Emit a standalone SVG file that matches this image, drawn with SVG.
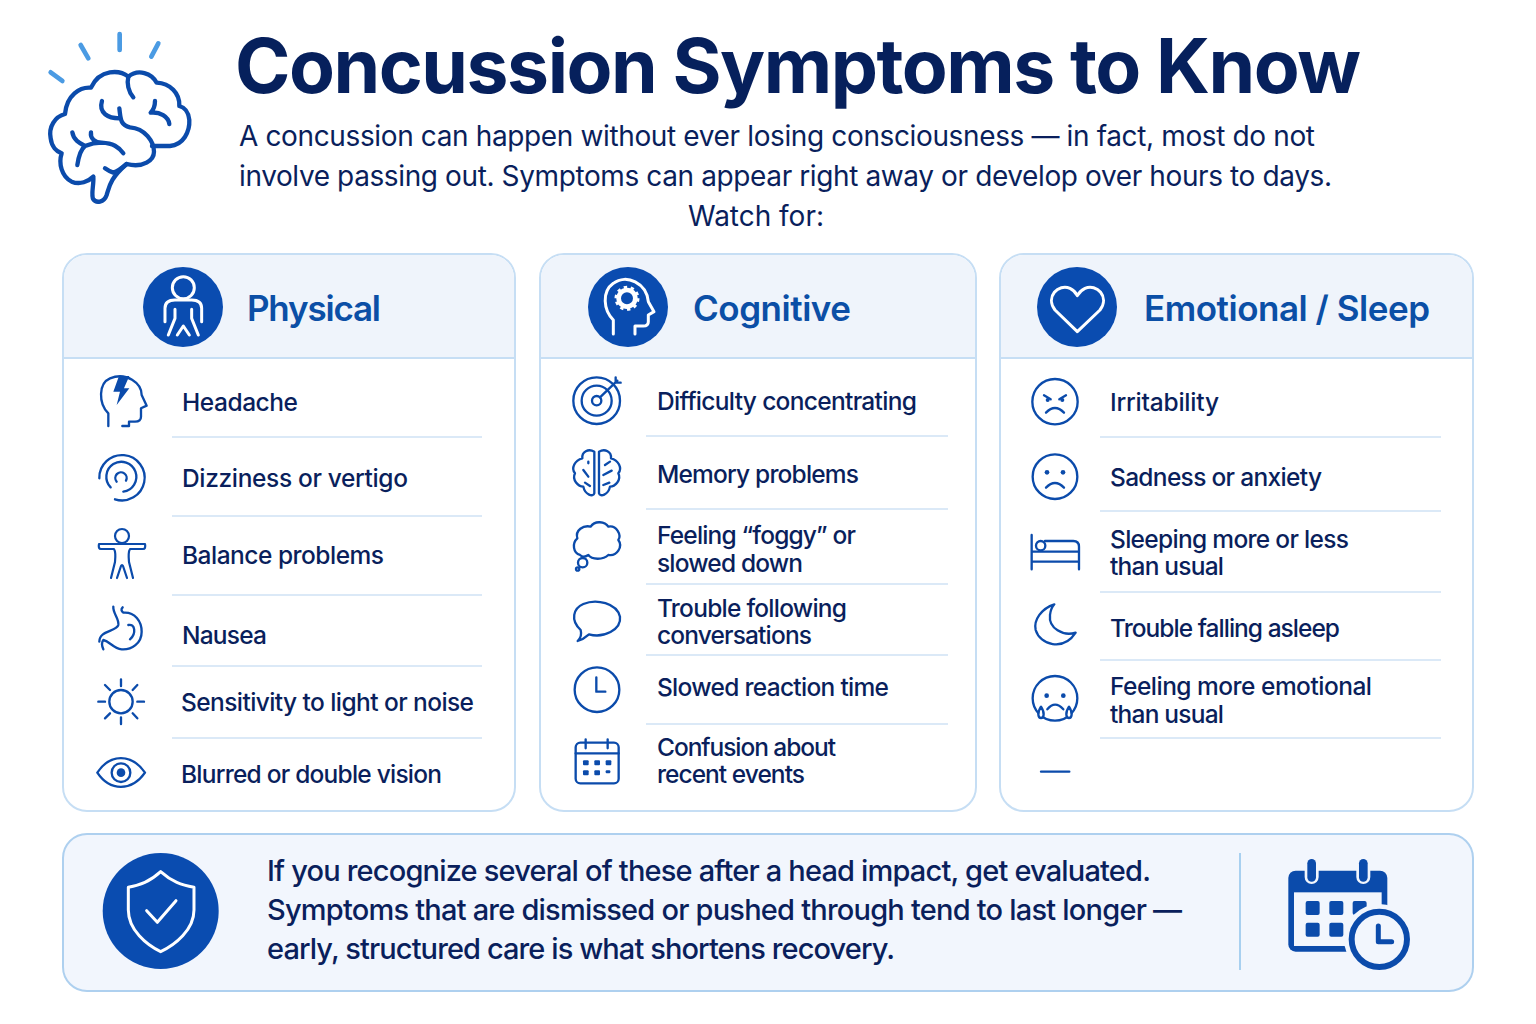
<svg xmlns="http://www.w3.org/2000/svg" width="1536" height="1024" viewBox="0 0 1536 1024">
<style>
text{font-family:"Inter","Liberation Sans",sans-serif;fill:#0a1f5c}
.title{font-size:75px;font-weight:700;fill:#06205c}
.sub{font-size:28px;font-weight:400}
.head{font-size:35px;font-weight:600;fill:#0b4fa6}
.item{font-size:24.500px;font-weight:500}
.note{font-size:29px;font-weight:500}
.panel{fill:#fff;stroke:#c6def4;stroke-width:2}
.hdr{fill:#eff4fb}
.rule{stroke:#c6def4;stroke-width:2;fill:none}
.sep{stroke:#dbe9f7;stroke-width:2;fill:none}
.ic{fill:none;stroke:#0b4bab;stroke-width:7;stroke-linecap:round;stroke-linejoin:round}
.wh{fill:none;stroke:#fff;stroke-width:9;stroke-linecap:round;stroke-linejoin:round}
.dot{fill:#0b4bab;stroke:none}
.disc{fill:#0a4cb0}
</style>
<rect width="1536" height="1024" fill="#fff"/>

<g id="brain-logo" transform="translate(30,20) scale(.3333)">
<g fill="none" stroke="#4b9be3" stroke-width="14" stroke-linecap="round">
<path d="M62,157L97,183M152,75L175,115M269,42V90M385,70L364,110"/>
</g>
<g fill="none" stroke="#0b4bab" stroke-width="13" stroke-linecap="round" stroke-linejoin="round">
<path d="M190,470C192,495 182,525 190,538C198,550 222,548 230,525C238,500 240,475 290,432C340,445 372,420 372,395C372,365 345,325 300,322C270,315 272,295 268,265M268,295C235,295 205,280 216,243M295,170C270,150 210,145 183,203C150,200 110,225 105,282C75,290 55,320 62,355C65,380 80,395 95,400C85,430 95,470 125,485C150,495 175,485 190,470"/>
<path d="M295,170C325,145 365,160 380,188C420,190 450,220 448,258C462,262 475,270 478,300C480,335 460,375 420,378H366"/>
<path d="M295,170C290,190 295,215 310,232M290,432C275,445 262,455 250,458C240,455 232,450 225,445"/>
<path d="M127,337C130,360 150,370 165,378C150,390 145,415 142,435M165,378C180,372 195,368 215,368C250,370 265,380 280,400M183,337C180,355 195,368 215,368"/>
<path d="M375,243C375,255 370,270 362,278C390,275 415,290 418,312"/>
</g>
</g>

<g id="header-text">
<text class="title" x="235" y="93" textLength="1126" lengthAdjust="spacing">Concussion Symptoms to Know</text>
<text class="sub" x="239" y="146" textLength="1076" lengthAdjust="spacing">A concussion can happen without ever losing consciousness — in fact, most do not</text>
<text class="sub" x="239" y="186" textLength="1093" lengthAdjust="spacing">involve passing out. Symptoms can appear right away or develop over hours to days.</text>
<text class="sub" x="688" y="226" textLength="136" lengthAdjust="spacing">Watch for:</text>
</g>

<g id="panel-physical">
<rect class="panel" x="63" y="254" width="452" height="557" rx="24"/>
<path class="hdr" d="M64,358V278A23,23 0 0 1 87,255H491A23,23 0 0 1 514,278V358Z"/>
<path class="rule" d="M64,358H514"/>
<circle class="disc" cx="183" cy="307" r="40"/>
<g transform="translate(60,250) scale(.3333)">
<circle class="wh" cx="370" cy="113" r="33"/>
<path class="wh" d="M315,215V175Q315,150 345,150H395Q425,150 425,175V215M345,178V205L325,255M395,178V205L415,255M352,255L370,228L388,255"/>
</g>
<text class="head" x="247" y="321" textLength="134" lengthAdjust="spacing">Physical</text>
<path class="sep" d="M172,437H482M172,516H482M172,595H482M172,666H482M172,738H482"/>
<g transform="translate(60,250) scale(.3333)">
<path class="ic" d="M145,528V490C115,460 115,400 150,385C200,365 245,400 245,435L260,467L243,475V500Q243,515 225,515H207V528H187"/>
<path class="dot" d="M177,378H208L192,415H208L170,465L180,425H160Z"/>
<path class="ic" d="M118,685A68,68 0 1 1 165,748M152,712A45,45 0 1 1 190,725M170,695A17,17 0 1 1 198,692"/>
</g>
<g id="icon-balance">
<circle cx="122" cy="536" r="7" fill="none" stroke="#0b4bab" stroke-width="2.200"/>
<path fill="none" stroke="#0b4bab" stroke-width="2.200" stroke-linecap="round" stroke-linejoin="round" d="M117,544H99Q98,549 101,549H114Q116,552 115,562L111,578M127,544H145Q146,549 143,549H130Q128,552 129,562L133,578M117,578L121,566Q122,564 123,566L127,578M117,544H127"/>
</g>
<g transform="translate(60,590) scale(.3333)">
<path class="ic" d="M188,52Q180,60 190,68C225,65 245,95 245,125C245,160 215,180 185,178C160,175 150,155 130,150Q122,160 130,178M160,50C158,70 178,85 175,105C170,125 118,120 118,155M205,105C225,100 230,130 210,148"/>
<circle class="ic" cx="183" cy="335" r="35"/>
<path class="ic" d="M183,268V288M183,382V402M115,335H135M232,335H252M135,285L150,300M232,285L218,300M135,385L150,370M232,385L218,370"/>
<path class="ic" d="M112,548C150,490 215,490 255,548C215,605 150,605 112,548Z"/>
<circle class="ic" cx="183" cy="548" r="28"/>
<circle class="dot" cx="183" cy="548" r="13"/>
</g>
<text class="item" x="182" y="411" textLength="116" lengthAdjust="spacing">Headache</text>
<text class="item" x="182" y="487" textLength="226" lengthAdjust="spacing">Dizziness or vertigo</text>
<text class="item" x="182" y="564" textLength="202" lengthAdjust="spacing">Balance problems</text>
<text class="item" x="182" y="644" textLength="85" lengthAdjust="spacing">Nausea</text>
<text class="item" x="181" y="711" textLength="293" lengthAdjust="spacing">Sensitivity to light or noise</text>
<text class="item" x="181" y="783" textLength="261" lengthAdjust="spacing">Blurred or double vision</text>
</g>

<g id="panel-cognitive">
<rect class="panel" x="540" y="254" width="436" height="557" rx="24"/>
<path class="hdr" d="M541,358V278A23,23 0 0 1 564,255H952A23,23 0 0 1 975,278V358Z"/>
<path class="rule" d="M541,358H975"/>
<circle class="disc" cx="628" cy="307" r="40"/>
<g transform="translate(550,260) scale(.3333)">
<path class="wh" d="M190,222V180C160,150 155,95 190,70C230,40 290,70 295,125L312,155L295,165V185Q295,198 280,198H255V222"/>
<circle cx="231" cy="115" r="25" fill="none" stroke="#fff" stroke-width="14"/>
<circle cx="231" cy="115" r="33" fill="none" stroke="#fff" stroke-width="9" stroke-dasharray="10 10.700"/>
</g>
<text class="head" x="693" y="321" textLength="158" lengthAdjust="spacing">Cognitive</text>
<path class="sep" d="M646,436H948M646,509H948M646,584H948M646,655H948M646,724H948"/>
<g transform="translate(550,260) scale(.3333)">
<circle class="ic" cx="140" cy="422" r="70"/>
<circle class="ic" cx="140" cy="422" r="45"/>
<circle class="ic" cx="140" cy="422" r="14"/>
<path class="ic" d="M150,412L202,362M197,352V368H212"/>
<path class="ic" d="M133,575C115,565 95,575 97,595C75,600 62,625 75,640C65,660 85,680 100,680C105,705 130,712 133,700ZM147,575C165,565 185,575 183,595C205,600 218,625 205,640C215,660 195,680 180,680C175,705 150,712 147,700Z"/>
<path class="ic" d="M115,605V610M100,630L115,650M105,668L120,678M165,615L180,605M160,645L185,632M160,675L178,668"/>
<path class="ic" d="M90,885C70,880 65,850 82,835C75,810 100,795 122,800C135,780 165,785 175,800C200,795 215,825 205,840C220,860 200,890 175,885C160,900 125,900 115,885Q100,895 90,885Z"/>
<circle class="ic" cx="98" cy="908" r="14"/>
<circle class="ic" cx="83" cy="927" r="5"/>
</g>
<g transform="translate(550,580) scale(.3333)">
<path class="ic" d="M92,150C60,120 70,85 100,72C140,55 200,70 210,110C215,150 160,175 117,163Q100,178 83,183Q97,170 92,150Z"/>
<circle class="ic" cx="141" cy="329" r="67"/>
<path class="ic" d="M139,292V335H166"/>
<rect class="ic" x="77" y="488" width="129" height="122" rx="14"/>
<path class="ic" d="M77,520H206M107,478V505M173,478V505"/>
<g class="dot"><rect x="99" y="541" width="17" height="15" rx="3"/><rect x="133" y="541" width="17" height="15" rx="3"/><rect x="167" y="541" width="17" height="15" rx="3"/><rect x="99" y="571" width="17" height="15" rx="3"/><rect x="133" y="571" width="17" height="15" rx="3"/><rect x="167" y="571" width="14" height="9" rx="3"/></g>
</g>
<text class="item" x="657" y="410" textLength="260" lengthAdjust="spacing">Difficulty concentrating</text>
<text class="item" x="657" y="483" textLength="202" lengthAdjust="spacing">Memory problems</text>
<text class="item" x="657" y="544" textLength="199" lengthAdjust="spacing">Feeling “foggy” or</text>
<text class="item" x="657" y="572" textLength="146" lengthAdjust="spacing">slowed down</text>
<text class="item" x="657" y="617" textLength="190" lengthAdjust="spacing">Trouble following</text>
<text class="item" x="657" y="644" textLength="155" lengthAdjust="spacing">conversations</text>
<text class="item" x="657" y="696" textLength="232" lengthAdjust="spacing">Slowed reaction time</text>
<text class="item" x="657" y="756" textLength="179" lengthAdjust="spacing">Confusion about</text>
<text class="item" x="657" y="783" textLength="148" lengthAdjust="spacing">recent events</text>
</g>

<g id="panel-emotional">
<rect class="panel" x="1000" y="254" width="473" height="557" rx="24"/>
<path class="hdr" d="M1001,358V278A23,23 0 0 1 1024,255H1449A23,23 0 0 1 1472,278V358Z"/>
<path class="rule" d="M1001,358H1472"/>
<circle class="disc" cx="1077" cy="307" r="40"/>
<g transform="translate(1010,260) scale(.3333)">
<path class="wh" d="M202,215L135,150C105,110 145,70 180,85Q195,92 202,107Q210,92 225,85C260,70 300,110 270,150Z"/>
</g>
<text class="head" x="1144" y="321" textLength="286" lengthAdjust="spacing">Emotional / Sleep</text>
<path class="sep" d="M1100,437H1441M1100,511H1441M1100,592H1441M1100,660H1441M1100,738H1441"/>
<g transform="translate(1010,260) scale(.3333)">
<circle class="ic" cx="135" cy="425" r="68"/>
<path class="ic" d="M102,406L122,418M168,406L148,418M108,458Q135,430 162,458"/>
<circle class="dot" cx="113" cy="420" r="6"/><circle class="dot" cx="157" cy="420" r="6"/>
<circle class="ic" cx="135" cy="650" r="67"/>
<circle class="dot" cx="111" cy="637" r="7"/><circle class="dot" cx="159" cy="637" r="7"/>
<path class="ic" d="M108,683Q135,655 162,683"/>
<path class="ic" d="M65,825V928M207,928V860Q207,843 190,843H105M65,875H207M65,905H207"/>
<circle class="ic" cx="92" cy="857" r="14"/>
</g>
<g transform="translate(1010,590) scale(.3333)">
<path class="ic" d="M133,43C95,55 70,90 77,120C90,165 160,185 197,128C160,140 115,115 120,75Q122,55 133,43Z"/>
<circle class="ic" cx="135" cy="325" r="67"/>
<circle class="dot" cx="110" cy="317" r="7"/><circle class="dot" cx="160" cy="317" r="7"/>
<path class="ic" d="M112,358Q135,330 160,358"/>
<path class="ic" style="fill:#fff" d="M93,350C80,370 85,384 93,384C101,384 106,370 93,350ZM177,350C164,370 169,384 177,384C185,384 190,370 177,350Z"/>
<path class="ic" d="M93,545H178"/>
</g>
<text class="item" x="1110" y="411" textLength="109" lengthAdjust="spacing">Irritability</text>
<text class="item" x="1110" y="486" textLength="212" lengthAdjust="spacing">Sadness or anxiety</text>
<text class="item" x="1110" y="548" textLength="239" lengthAdjust="spacing">Sleeping more or less</text>
<text class="item" x="1110" y="575" textLength="114" lengthAdjust="spacing">than usual</text>
<text class="item" x="1110" y="637" textLength="230" lengthAdjust="spacing">Trouble falling asleep</text>
<text class="item" x="1110" y="695" textLength="262" lengthAdjust="spacing">Feeling more emotional</text>
<text class="item" x="1110" y="723" textLength="114" lengthAdjust="spacing">than usual</text>
</g>

<g id="callout">
<rect x="63" y="834" width="1410" height="157" rx="24" fill="#f2f6fd" stroke="#aed0ef" stroke-width="2"/>
<circle class="disc" cx="160.700" cy="911" r="58"/>
<g transform="translate(60,830) scale(.3333)">
<path class="wh" d="M302,125C270,155 240,165 205,172V240C205,300 260,345 302,365C345,345 402,300 402,240V172C365,165 335,155 302,125Z"/>
<path class="wh" d="M260,242L292,277L348,212"/>
</g>
<text class="note" x="267" y="881" textLength="884" lengthAdjust="spacing">If you recognize several of these after a head impact, get evaluated.</text>
<text class="note" x="267" y="920" textLength="915" lengthAdjust="spacing">Symptoms that are dismissed or pushed through tend to last longer —</text>
<text class="note" x="267" y="959" textLength="628" lengthAdjust="spacing">early, structured care is what shortens recovery.</text>
<path d="M1240,853V970" stroke="#a8d0f0" stroke-width="2" fill="none"/>
<g transform="translate(1230,840) scale(.3333)">
<rect x="175" y="92" width="297" height="243" rx="22" fill="#0b4bab"/>
<rect x="192" y="157" width="263" height="161" fill="#f2f6fd"/>
<rect x="224" y="48" width="42" height="84" rx="21" fill="#f2f6fd"/>
<rect x="232" y="57" width="26" height="68" rx="13" fill="#0b4bab"/>
<rect x="379" y="48" width="42" height="84" rx="21" fill="#f2f6fd"/>
<rect x="387" y="57" width="26" height="68" rx="13" fill="#0b4bab"/>
<g fill="#0b4bab"><rect x="227" y="183" width="42" height="42" rx="6"/><rect x="298" y="183" width="42" height="42" rx="6"/><rect x="368" y="183" width="42" height="42" rx="6"/><rect x="227" y="248" width="42" height="42" rx="6"/><rect x="298" y="248" width="42" height="42" rx="6"/></g>
<circle cx="448" cy="298" r="106" fill="#f2f6fd"/>
<circle cx="448" cy="298" r="83" fill="#f2f6fd" stroke="#0b4bab" stroke-width="18"/>
<path d="M445,258V305H485" fill="none" stroke="#0b4bab" stroke-width="15" stroke-linecap="round" stroke-linejoin="round"/>
</g>
</g>
</svg>
